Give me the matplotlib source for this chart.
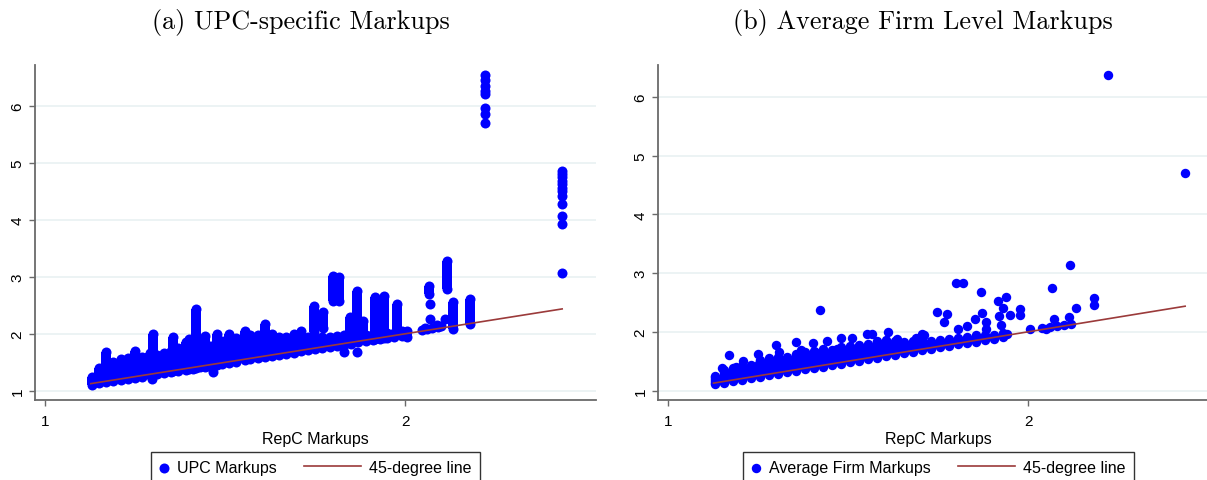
import matplotlib
matplotlib.use("Agg")
import matplotlib.pyplot as plt
from matplotlib.legend_handler import HandlerPathCollection

plt.rcParams["font.family"] = ["Liberation Sans", "DejaVu Sans"]

# ---------------- data ----------------
titles = ["(a) UPC-specific Markups", "(b) Average Firm Level Markups"]
x_label = "RepC Markups"
x_ticks = [1, 2]
y_ticks = [1, 2, 3, 4, 5, 6]
legend_a = ["UPC Markups", "45-degree line"]
legend_b = ["Average Firm Markups", "45-degree line"]

# 45-degree line end points (RepC range)
line_x = [1.127, 2.436]
line_y = [1.127, 2.436]

# Panel (a): dense vertical runs of UPC markups (x, lowest, highest)
upc_col_x = [1.13, 1.15, 1.17, 1.19, 1.21, 1.23, 1.25, 1.27, 1.29, 1.30, 1.31, 1.33,
             1.35, 1.355, 1.37, 1.39, 1.40, 1.41, 1.42, 1.43, 1.444, 1.45, 1.47, 1.477,
             1.49, 1.51, 1.53, 1.556, 1.57, 1.59, 1.611, 1.63, 1.65, 1.67, 1.69, 1.71,
             1.73, 1.75, 1.77, 1.79, 1.81, 1.83, 1.85, 1.87, 1.89, 1.91, 1.93, 1.95,
             1.97, 1.99,
             1.747, 1.772, 1.80, 1.817, 1.847, 1.867, 1.883, 1.917, 1.94, 1.977, 2.005,
             2.065, 2.116, 2.132, 2.18]
upc_col_lo = [1.11, 1.13, 1.15, 1.17, 1.19, 1.21, 1.23, 1.25, 1.27, 1.28, 1.29, 1.31,
              1.33, 1.34, 1.35, 1.37, 1.38, 1.39, 1.40, 1.41, 1.42, 1.43, 1.45, 1.46,
              1.47, 1.49, 1.51, 1.54, 1.55, 1.57, 1.59, 1.61, 1.63, 1.65, 1.67, 1.69,
              1.71, 1.73, 1.75, 1.77, 1.79, 1.81, 1.83, 1.85, 1.87, 1.89, 1.91, 1.93,
              1.95, 1.97,
              2.03, 2.10, 2.58, 2.58, 2.00, 1.96, 2.00, 1.91, 1.92, 2.08, 1.94,
              2.70, 2.78, 2.08, 2.17]
upc_col_hi = [1.25, 1.40, 1.68, 1.50, 1.55, 1.57, 1.70, 1.60, 1.66, 1.99, 1.62, 1.66,
              1.70, 1.94, 1.75, 1.85, 1.91, 1.80, 2.43, 1.82, 1.97, 1.80, 1.80, 1.99,
              1.88, 1.99, 1.92, 2.05, 1.98, 1.98, 2.17, 2.00, 1.95, 1.95, 2.00, 2.05,
              1.95, 1.92, 1.95, 1.95, 1.96, 1.98, 1.98, 1.98, 1.98, 2.00, 2.00, 2.02,
              2.02, 2.05,
              2.49, 2.38, 3.02, 2.99, 2.29, 2.75, 2.22, 2.64, 2.66, 2.52, 2.05,
              2.84, 3.28, 2.55, 2.61]

# Panel (a): separate UPC markup points
upc_pt_x = [1.296, 1.467, 1.83, 1.867, 2.068, 2.07, 2.11, 2.088, 2.046, 2.056, 2.06,
            2.075, 2.09, 2.10,
            2.222, 2.222, 2.222, 2.222, 2.222, 2.222, 2.222, 2.222,
            2.436, 2.436, 2.436, 2.436, 2.436, 2.436, 2.436, 2.436, 2.436, 2.436,
            2.436, 2.436]
upc_pt_y = [1.20, 1.33, 1.68, 1.68, 2.52, 2.26, 2.26, 2.15, 2.06, 2.10, 2.08,
            2.10, 2.12, 2.14,
            6.54, 6.44, 6.35, 6.26, 6.21, 5.95, 5.85, 5.70,
            4.86, 4.80, 4.74, 4.68, 4.62, 4.56, 4.50, 4.42, 4.28, 4.07,
            3.92, 3.06]

# Panel (b): dense runs of firm markups near the line (x, lowest, highest)
firm_col_x = [1.13, 1.155, 1.18, 1.205, 1.23, 1.255, 1.28, 1.305, 1.33, 1.355, 1.38,
              1.405, 1.43, 1.455, 1.48, 1.505, 1.53, 1.555, 1.58, 1.605, 1.63, 1.655,
              1.68, 1.705, 1.73, 1.755, 1.78, 1.805, 1.83, 1.855, 1.88, 1.905, 1.93]
firm_col_lo = [1.11, 1.135, 1.16, 1.185, 1.21, 1.235, 1.26, 1.285, 1.31, 1.335, 1.36,
               1.385, 1.41, 1.435, 1.46, 1.485, 1.51, 1.535, 1.56, 1.585, 1.61, 1.635,
               1.66, 1.685, 1.71, 1.735, 1.76, 1.785, 1.81, 1.835, 1.86, 1.885, 1.91]
firm_col_hi = [1.24, 1.35, 1.38, 1.42, 1.44, 1.52, 1.55, 1.58, 1.57, 1.62, 1.66,
               1.68, 1.70, 1.69, 1.74, 1.76, 1.78, 1.80, 1.84, 1.86, 1.84, 1.82,
               1.84, 1.86, 1.84, 1.86, 1.88, 1.90, 1.92, 1.94, 1.94, 1.95, 1.98]

# Panel (b): separate firm markup points
firm_pt_x = [1.17, 1.15, 1.21, 1.25, 1.30, 1.356, 1.404, 1.423, 1.443, 1.48, 1.512,
             1.553, 1.567, 1.612, 1.636, 1.69, 1.705, 1.71, 1.748, 1.775, 1.768, 1.80,
             1.819, 1.806, 1.83, 1.854, 1.869, 1.872, 1.884, 1.884, 1.918, 1.94, 1.93,
             1.92, 1.949, 1.977, 1.977, 1.926, 1.942, 2.005, 2.067, 2.05, 2.073,
             2.117, 2.133, 2.114, 2.182, 2.182, 2.223, 2.435,
             1.31, 1.37, 1.47, 1.25, 1.19, 1.41,
             2.04, 2.06, 2.08, 2.10, 2.12]
firm_pt_y = [1.60, 1.39, 1.51, 1.62, 1.78, 1.82, 1.81, 2.37, 1.84, 1.89, 1.89,
             1.96, 1.97, 2.00, 1.88, 1.89, 1.96, 1.94, 2.34, 2.30, 2.17, 2.83,
             2.83, 2.05, 2.10, 2.21, 2.67, 2.32, 2.16, 2.05, 2.53, 2.60, 2.40,
             2.27, 2.29, 2.38, 2.28, 2.12, 1.96, 2.05, 2.74, 2.05, 2.22,
             3.14, 2.40, 2.25, 2.57, 2.46, 6.37, 4.70,
             1.66, 1.69, 1.71, 1.43, 1.40, 1.66,
             2.06, 2.08, 2.10, 2.12, 2.14]

# ---------------- style ----------------
BLUE = "#0000FF"
LINE_C = "#9B3A3A"
SPINE_C = "#6a6a6a"
GRID_C = "#EAF2F3"
W, H = 1207, 481

fig = plt.figure(figsize=(W / 100, H / 100), dpi=100)


def px_axes(x0, y0, x1, y1):
    return fig.add_axes([x0 / W, 1 - y1 / H, (x1 - x0) / W, (y1 - y0) / H])


class SmallDot(HandlerPathCollection):
    def legend_artist(self, legend, orig_handle, fontsize, handlebox):
        handlebox.width = 0.6 * fontsize
        return super().legend_artist(legend, orig_handle, fontsize, handlebox)


def draw_panel(ax, xlim, ylim, col_x, col_lo, col_hi, pt_x, pt_y, dot_pt, labels):
    ax.set_xlim(*xlim)
    ax.set_ylim(*ylim)
    for s in ["top", "right"]:
        ax.spines[s].set_visible(False)
    for s in ["left", "bottom"]:
        ax.spines[s].set_color(SPINE_C)
        ax.spines[s].set_linewidth(1.3)
    ax.set_xticks(x_ticks)
    ax.set_yticks(y_ticks)
    ax.set_xticklabels([str(v) for v in x_ticks])
    ax.set_yticklabels([str(v) for v in y_ticks])
    ax.tick_params(direction="out", length=4, width=1, color=SPINE_C, labelsize=11)
    ax.tick_params(axis="x", pad=6, labelsize=11)
    ax.tick_params(axis="y", labelrotation=90)
    for t in ax.get_yticklabels():
        t.set_va("center")
    ax.grid(axis="y", color=GRID_C, linewidth=1.3)
    ax.set_axisbelow(True)

    ax.vlines(col_x, col_lo, col_hi, colors=BLUE, linewidth=dot_pt,
              capstyle="butt", zorder=2)
    ax.scatter(col_x + col_x, col_lo + col_hi, s=dot_pt ** 2, color=BLUE,
               linewidths=0, zorder=2)
    sc = ax.scatter(pt_x, pt_y, s=dot_pt ** 2, color=BLUE, linewidths=0,
                    zorder=2, label=labels[0])
    ln, = ax.plot(line_x, line_y, color=LINE_C, linewidth=1.2, zorder=3,
                  label=labels[1])
    ax.set_xlabel(x_label, fontsize=11.5, labelpad=2)

    # legend top at y=453 px
    ytop_fig = 1 - 453.0 / H
    pos = ax.get_position()
    ytop_ax = (ytop_fig - pos.y0) / pos.height
    leg = ax.legend(handles=[sc, ln], loc="upper center",
                    bbox_to_anchor=(0.5, ytop_ax), ncol=2, frameon=True,
                    fancybox=False, edgecolor="#333333", framealpha=1,
                    borderaxespad=0, handlelength=3.6, handletextpad=0.5,
                    columnspacing=1.7, fontsize=11.5, borderpad=0.5,
                    scatterpoints=1, handler_map={sc: SmallDot()})
    leg.get_frame().set_linewidth(1.0)


axL = px_axes(35, 66, 596, 401)
draw_panel(axL, (0.972, 2.53), (0.84, 6.71), upc_col_x, upc_col_lo, upc_col_hi,
           upc_pt_x, upc_pt_y, 7.2, legend_a)

axR = px_axes(658, 66, 1219, 401)
draw_panel(axR, (0.973, 2.53), (0.84, 6.54), firm_col_x, firm_col_lo, firm_col_hi,
           firm_pt_x, firm_pt_y, 6.8, legend_b)

fig.text(301 / W, 1 - 22 / H, titles[0], ha="center", va="center",
         fontfamily="cmr10", fontsize=18.8)
fig.text(923 / W, 1 - 22 / H, titles[1], ha="center", va="center",
         fontfamily="cmr10", fontsize=18.8)

fig.savefig("out.png", dpi=100)
